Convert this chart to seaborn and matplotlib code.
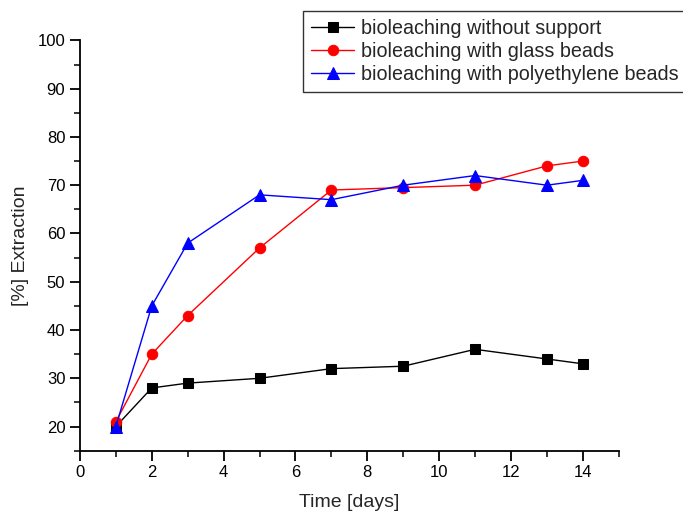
import pandas as pd
import seaborn as sns
import matplotlib.pyplot as plt
from matplotlib.ticker import MultipleLocator

# data
days = [1, 2, 3, 5, 7, 9, 11, 13, 14]
no_support = [20, 28, 29, 30, 32, 32.5, 36, 34, 33]
glass_beads = [21, 35, 43, 57, 69, 69.5, 70, 74, 75]
pe_beads = [20, 45, 58, 68, 67, 70, 72, 70, 71]
labels = ['bioleaching without support',
          'bioleaching with glass beads',
          'bioleaching with polyethylene beads']

sns.set_style("ticks")
plt.rcParams['font.family'] = ['Liberation Sans', 'DejaVu Sans']

fig = plt.figure(figsize=(6.83, 5.11), dpi=100)
ax = fig.add_axes([0.117, 0.118, 0.789, 0.803])

series = [(no_support, 'black', 's', 6.5),
          (glass_beads, 'red', 'o', 7.5),
          (pe_beads, 'blue', '^', 8)]
for (vals, col, mk, ms), lab in zip(series, labels):
    df = pd.DataFrame({'day': days, 'ext': vals})
    sns.lineplot(data=df, x='day', y='ext', ax=ax, color=col, marker=mk,
                 markersize=ms, markeredgecolor=col, linewidth=1, label=lab)

ax.set_xlim(0, 15)
ax.xaxis.set_major_locator(MultipleLocator(2))
ax.xaxis.set_minor_locator(MultipleLocator(1))
ax.yaxis.set_minor_locator(MultipleLocator(5))
ax.set_yticks(range(20, 101, 10))
ax.set_ylim(15, 100)
ax.tick_params(which='major', length=7, width=1.3, labelsize=12, colors='black')
ax.tick_params(which='minor', length=4, width=1.3)
for s in ['top', 'right']:
    ax.spines[s].set_visible(False)
for s in ['left', 'bottom']:
    ax.spines[s].set_linewidth(1.3)
    ax.spines[s].set_color('black')

ax.set_xlabel('Time [days]', fontsize=14, labelpad=10)
ax.set_ylabel('[%] Extraction', fontsize=14, labelpad=6)

handles, labs = ax.get_legend_handles_labels()
ax.get_legend().remove()
leg = fig.legend(handles, labs, loc='upper left',
                 bbox_to_anchor=(303 / 683, 1 - 11 / 511),
                 fontsize=14.2, fancybox=False, framealpha=1,
                 edgecolor='#333333', handlelength=2.2, handletextpad=0.35,
                 labelspacing=0.2, borderpad=0.4, borderaxespad=0)
leg.get_frame().set_linewidth(1)

fig.savefig('out.png', dpi=100)
